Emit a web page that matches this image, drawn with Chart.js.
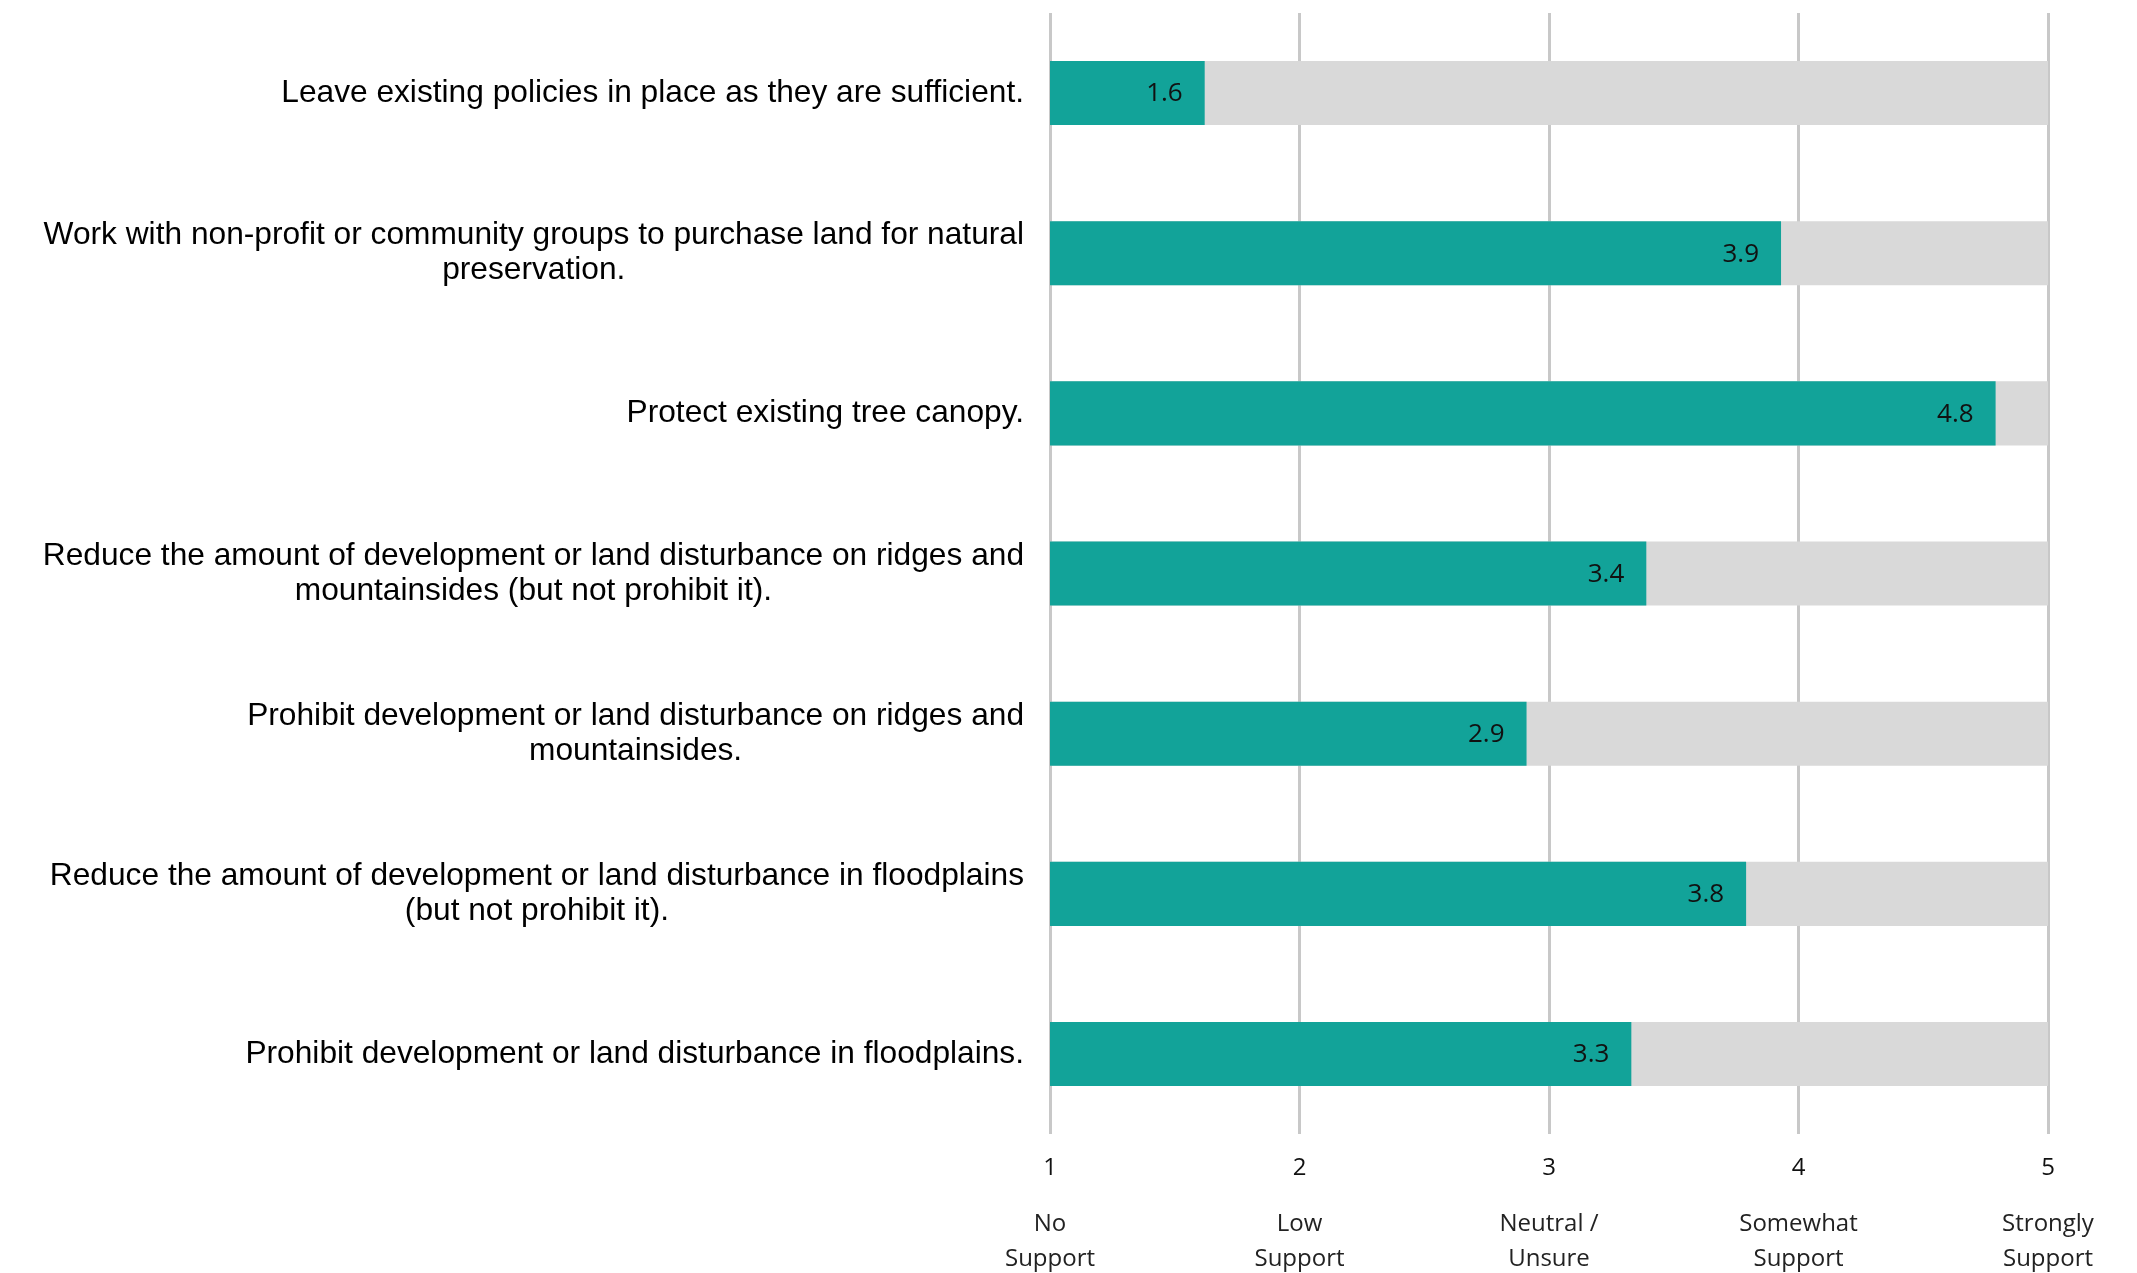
<!DOCTYPE html>
<html>
<head>
<meta charset="utf-8">
<script src="https://cdn.jsdelivr.net/npm/chart.js@4"></script>
<style>
  html, body { margin: 0; padding: 0; background: #ffffff; }
  #wrap { width: 2137px; height: 1273px; }
</style>
</head>
<body>
<div id="wrap"><canvas id="supportChart"></canvas></div>
<script>
// Survey statements (multi-line ones as arrays)
const categories = [
    "Leave existing policies in place as they are sufficient.",
    ["Work with non-profit or community groups to purchase land for natural", "preservation."],
    "Protect existing tree canopy.",
    ["Reduce the amount of development or land disturbance on ridges and", "mountainsides (but not prohibit it)."],
    ["Prohibit development or land disturbance on ridges and", "mountainsides."],
    ["Reduce the amount of development or land disturbance in floodplains", "(but not prohibit it)."],
    "Prohibit development or land disturbance in floodplains."
];

// Average support score per statement
const meanScores = [1.62, 3.93, 4.79, 3.39, 2.91, 3.79, 3.33];

// Full-scale track behind each bar
const scaleMaxValues = [5, 5, 5, 5, 5, 5, 5];

// Axis ticks and their meaning
const tickValues = [1, 2, 3, 4, 5];
const tickDescriptors = [
    ["No", "Support"],
    ["Low", "Support"],
    ["Neutral /", "Unsure"],
    ["Somewhat", "Support"],
    ["Strongly", "Support"]
];

const TEAL = '#12a399';
const TRACK = '#d9d9d9';
const GRID = '#c8c8c8';
const LABEL_FONT = "31.7px 'Liberation Sans', Arial, sans-serif";
const TICK_FAMILY = "'Open Sans', sans-serif";

// Draw category labels: each block right-aligned to the axis, lines centered within the block
const categoryLabelPlugin = {
    id: 'categoryLabels',
    afterDraw(chart) {
        const ctx = chart.ctx;
        const yScale = chart.scales.y;
        const gap = 26;
        const lineH = 35;
        ctx.save();
        ctx.font = LABEL_FONT;
        ctx.fillStyle = '#000000';
        ctx.textAlign = 'center';
        ctx.textBaseline = 'middle';
        chart.data.labels.forEach((lab, i) => {
            const lines = [].concat(lab);
            const w = Math.max(...lines.map(l => ctx.measureText(l).width));
            const cx = chart.chartArea.left - gap - w / 2;
            const cy = yScale.getPixelForTick(i);
            lines.forEach((ln, j) => {
                ctx.fillText(ln, cx, cy + (j - (lines.length - 1) / 2) * lineH);
            });
        });
        ctx.restore();
    }
};

// Value printed inside the end of each teal bar
const valueLabelPlugin = {
    id: 'valueLabels',
    afterDatasetsDraw(chart) {
        const ctx = chart.ctx;
        const meta = chart.getDatasetMeta(0);
        ctx.save();
        ctx.font = "26px " + TICK_FAMILY;
        ctx.fillStyle = '#111111';
        ctx.textAlign = 'right';
        ctx.textBaseline = 'middle';
        meta.data.forEach((bar, i) => {
            ctx.fillText(meanScores[i].toFixed(1), bar.x - 22, bar.y + 1);
        });
        ctx.restore();
    }
};

const ctx = document.getElementById('supportChart').getContext('2d');

new Chart(ctx, {
    type: 'bar',
    data: {
        labels: categories,
        datasets: [
            {
                label: 'Average score',
                data: meanScores,
                backgroundColor: TEAL,
                borderWidth: 0,
                order: 0
            },
            {
                label: 'Scale',
                data: scaleMaxValues,
                backgroundColor: TRACK,
                borderWidth: 0,
                order: 1
            }
        ]
    },
    options: {
        indexAxis: 'y',
        responsive: true,
        maintainAspectRatio: false,
        animation: false,
        datasets: {
            bar: {
                grouped: false,
                categoryPercentage: 1.0,
                barPercentage: 0.4
            }
        },
        layout: {
            padding: { top: 13, right: 89, bottom: 0, left: 0 }
        },
        plugins: {
            legend: { display: false },
            tooltip: { enabled: false }
        },
        scales: {
            y: {
                border: { display: false },
                grid: { display: false },
                ticks: { display: false },
                afterFit: function(scale) { scale.width = 1050; }
            },
            x: {
                position: 'bottom',
                min: 1,
                max: 5,
                border: { display: false },
                grid: {
                    color: GRID,
                    lineWidth: 3,
                    drawTicks: false
                },
                afterBuildTicks: function(scale) {
                    scale.ticks = tickValues.map(v => ({ value: v }));
                },
                ticks: {
                    padding: 20,
                    color: '#111111',
                    font: { family: TICK_FAMILY, size: 24, lineHeight: 1.2 },
                    callback: function(value) { return String(value); }
                }
            },
            x2: {
                position: 'bottom',
                axis: 'x',
                min: 1,
                max: 5,
                border: { display: false },
                grid: { display: false, drawTicks: false },
                afterBuildTicks: function(scale) {
                    scale.ticks = tickValues.map(v => ({ value: v }));
                },
                afterFit: function(scale) { scale.height -= 8; },
                ticks: {
                    padding: 4,
                    color: '#222222',
                    font: { family: TICK_FAMILY, size: 24, lineHeight: 1.46 },
                    callback: function(value) {
                        return tickDescriptors[tickValues.indexOf(value)];
                    }
                }
            }
        }
    },
    plugins: [categoryLabelPlugin, valueLabelPlugin]
});
</script>
</body>
</html>
